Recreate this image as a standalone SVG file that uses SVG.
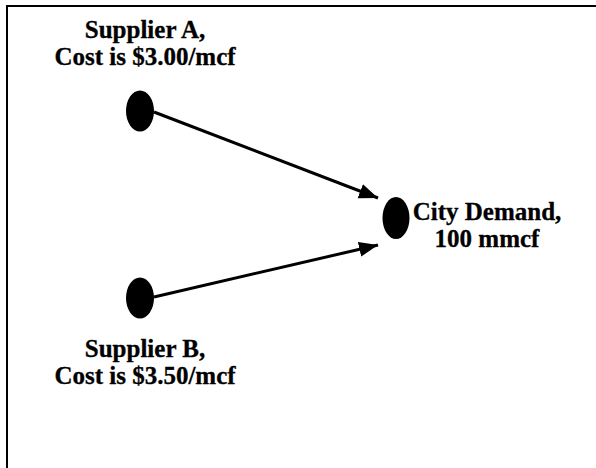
<svg xmlns="http://www.w3.org/2000/svg" width="596" height="468" viewBox="0 0 596 468">
<style>
.lbl{font-family:"Liberation Serif","Times New Roman",serif;font-weight:bold;font-size:25px;fill:#000;stroke:#000;stroke-width:0.3;text-anchor:middle}
.edge{stroke:#000;stroke-width:3;fill:none}
.dot{fill:#000}
</style>
<defs>
<marker id="ah" markerUnits="userSpaceOnUse" markerWidth="22" markerHeight="18" refX="19" refY="9" orient="auto">
<path d="M0,1.5 L19,9 L0,16.5 Z" fill="#000"/>
</marker>
</defs>
<rect width="596" height="468" fill="#fff"/>
<path d="M7,468 V6 H596" stroke="#000" stroke-width="2" fill="none"/>
<g id="connectors">
<line class="edge" x1="154" y1="112" x2="378" y2="198" marker-end="url(#ah)"/>
<line class="edge" x1="154" y1="297" x2="378" y2="245" marker-end="url(#ah)"/>
</g>
<g id="supplierA">
<ellipse class="dot" cx="140" cy="111" rx="14" ry="20.5"/>
<text class="lbl" x="145" y="38">Supplier A,</text>
<text class="lbl" x="145" y="65">Cost is $3.00/mcf</text>
</g>
<g id="supplierB">
<ellipse class="dot" cx="140" cy="298" rx="14" ry="20.5"/>
<text class="lbl" x="145" y="357">Supplier B,</text>
<text class="lbl" x="145" y="384">Cost is $3.50/mcf</text>
</g>
<g id="city">
<ellipse class="dot" cx="396" cy="218" rx="13.5" ry="21"/>
<text class="lbl" x="487" y="220">City Demand,</text>
<text class="lbl" x="487" y="247">100 mmcf</text>
</g>
</svg>
